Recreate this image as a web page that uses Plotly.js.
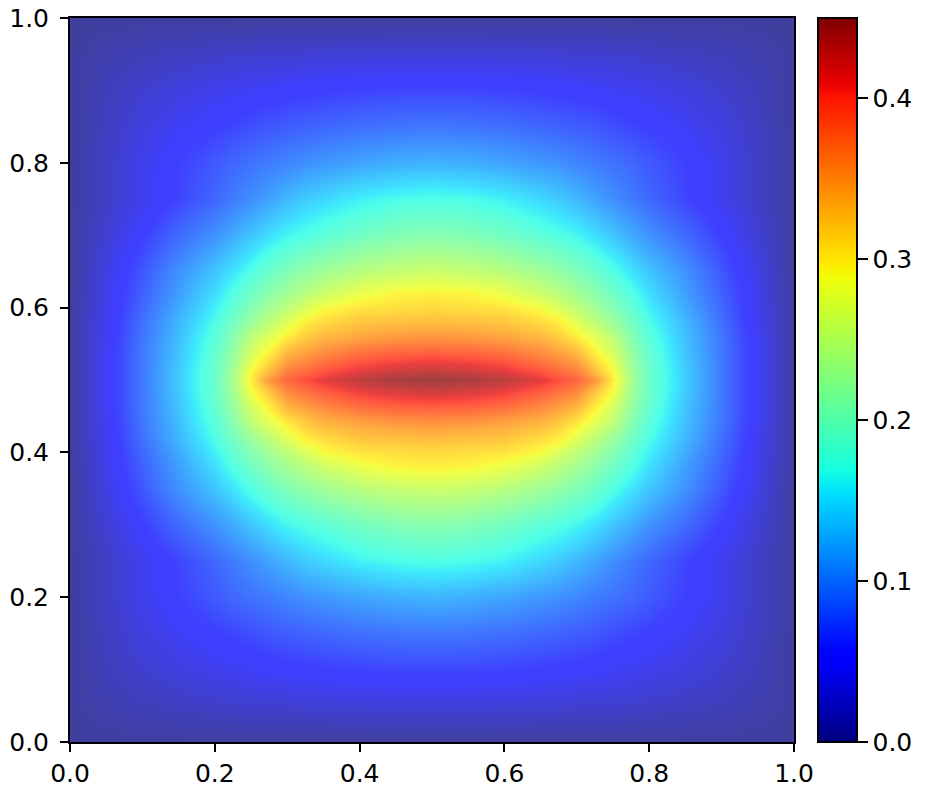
<!DOCTYPE html>
<html>
<head>
<meta charset="utf-8">
<script src="https://cdn.plot.ly/plotly-3.0.1.min.js"></script>
<style>
  html, body { margin: 0; padding: 0; background: white; }
</style>
</head>
<body>
<div id="myDiv"></div>
<script>
// values, lower left quarter is mirrored since the field is symmetric
const xStops = [0, 0.05, 0.1, 0.15, 0.2, 0.225, 0.25, 0.275, 0.3, 0.325, 0.35, 0.4, 0.45, 0.5];
const yStops = [0, 0.05, 0.1, 0.15, 0.2, 0.25, 0.3, 0.35, 0.38, 0.4, 0.42, 0.44, 0.46, 0.48, 0.49, 0.5];

// one row per yStops entry, one value per xStops entry
const row000 = [0, 0, 0, 0, 0, 0, 0, 0, 0, 0, 0, 0, 0, 0];
const row005 = [0, 0.008, 0.014, 0.018, 0.021, 0.023, 0.024, 0.025, 0.026, 0.027, 0.028, 0.029, 0.03, 0.03];
const row010 = [0, 0.014, 0.025, 0.033, 0.04, 0.043, 0.046, 0.049, 0.051, 0.053, 0.055, 0.058, 0.06, 0.06];
const row015 = [0, 0.018, 0.033, 0.045, 0.056, 0.06, 0.065, 0.07, 0.074, 0.077, 0.08, 0.085, 0.088, 0.09];
const row020 = [0, 0.02, 0.04, 0.057, 0.072, 0.08, 0.086, 0.092, 0.098, 0.104, 0.108, 0.116, 0.122, 0.125];
const row025 = [0, 0.02, 0.04, 0.06, 0.08, 0.092, 0.103, 0.115, 0.127, 0.138, 0.146, 0.16, 0.168, 0.171];
const row030 = [0, 0.027, 0.055, 0.082, 0.105, 0.12, 0.135, 0.15, 0.163, 0.172, 0.18, 0.195, 0.206, 0.21];
const row035 = [0, 0.035, 0.07, 0.105, 0.135, 0.153, 0.172, 0.19, 0.205, 0.218, 0.228, 0.245, 0.255, 0.26];
const row038 = [0, 0.038, 0.076, 0.113, 0.15, 0.173, 0.193, 0.213, 0.23, 0.245, 0.26, 0.282, 0.294, 0.297];
const row040 = [0, 0.04, 0.08, 0.12, 0.16, 0.185, 0.208, 0.23, 0.25, 0.27, 0.29, 0.305, 0.308, 0.312];
const row042 = [0, 0.042, 0.085, 0.127, 0.17, 0.197, 0.225, 0.25, 0.275, 0.3, 0.31, 0.325, 0.328, 0.33];
const row044 = [0, 0.044, 0.088, 0.132, 0.178, 0.21, 0.25, 0.275, 0.3, 0.32, 0.333, 0.345, 0.352, 0.355];
const row046 = [0, 0.045, 0.09, 0.135, 0.185, 0.22, 0.265, 0.295, 0.33, 0.345, 0.358, 0.375, 0.383, 0.385];
const row048 = [0, 0.045, 0.09, 0.138, 0.19, 0.228, 0.285, 0.32, 0.358, 0.372, 0.385, 0.405, 0.415, 0.42];
const row049 = [0, 0.045, 0.09, 0.14, 0.19, 0.232, 0.293, 0.335, 0.372, 0.385, 0.4, 0.42, 0.43, 0.435];
const row050 = [0, 0.045, 0.09, 0.14, 0.19, 0.235, 0.3, 0.355, 0.385, 0.4, 0.415, 0.435, 0.445, 0.45];

const quarterRows = [
  row000, row005, row010, row015, row020, row025, row030, row035,
  row038, row040, row042, row044, row046, row048, row049, row050,
];

const xTicks = [0, 0.2, 0.4, 0.6, 0.8, 1];
const yTicks = [0, 0.2, 0.4, 0.6, 0.8, 1];
const barTicks = [0, 0.1, 0.2, 0.3, 0.4];

// matplotlib jet
const jet = [
  [0, "rgb(0,0,127)"],
  [0.11, "rgb(0,0,255)"],
  [0.125, "rgb(0,0,255)"],
  [0.34, "rgb(0,219,255)"],
  [0.35, "rgb(0,230,247)"],
  [0.375, "rgb(21,255,226)"],
  [0.64, "rgb(239,255,8)"],
  [0.65, "rgb(247,246,0)"],
  [0.66, "rgb(255,236,0)"],
  [0.89, "rgb(255,19,0)"],
  [0.91, "rgb(232,0,0)"],
  [1, "rgb(127,0,0)"],
];

function mirrorStops(stops) {
  const upper = stops.slice(0, -1).reverse().map((s) => 1 - s);
  return stops.concat(upper);
}

function mirrorRow(row) {
  return row.concat(row.slice(0, -1).reverse());
}

function mirrorRows(rows) {
  const full = rows.map(mirrorRow);
  return full.concat(full.slice(0, -1).reverse());
}

const fontStyle = { family: "DejaVu Sans", size: 25, color: "black" };

function axisStyle(ticks) {
  return {
    range: [0, 1],
    tickmode: "array",
    tickvals: ticks,
    ticktext: ticks.map((t) => t.toFixed(1)),
    ticks: "outside",
    ticklen: 8,
    tickwidth: 2,
    tickcolor: "black",
    showgrid: false,
    zeroline: false,
    showline: true,
    linewidth: 2,
    linecolor: "black",
    mirror: true,
    tickfont: fontStyle,
  };
}

const trace = {
  type: "heatmap",
  x: mirrorStops(xStops),
  y: mirrorStops(yStops),
  z: mirrorRows(quarterRows),
  zmin: 0,
  zmax: 0.45,
  zsmooth: "best",
  opacity: 0.75,
  colorscale: jet,
  colorbar: {
    x: 1.033,
    xanchor: "left",
    y: 0.5,
    len: 1,
    ypad: 0,
    xpad: 0,
    thickness: 39,
    thicknessmode: "pixels",
    outlinewidth: 2,
    outlinecolor: "black",
    tickmode: "array",
    tickvals: barTicks,
    ticktext: barTicks.map((t) => t.toFixed(1)),
    ticks: "outside",
    ticklen: 10,
    tickwidth: 2,
    tickcolor: "black",
    tickfont: fontStyle,
  },
};

const layout = {
  width: 930,
  height: 790,
  margin: { l: 70, r: 136, t: 18, b: 48 },
  paper_bgcolor: "white",
  plot_bgcolor: "white",
  xaxis: axisStyle(xTicks),
  yaxis: Object.assign(axisStyle(yTicks), { ticklabelstandoff: 6 }),
  showlegend: false,
};

Plotly.newPlot("myDiv", [trace], layout, { staticPlot: true });
</script>
</body>
</html>
